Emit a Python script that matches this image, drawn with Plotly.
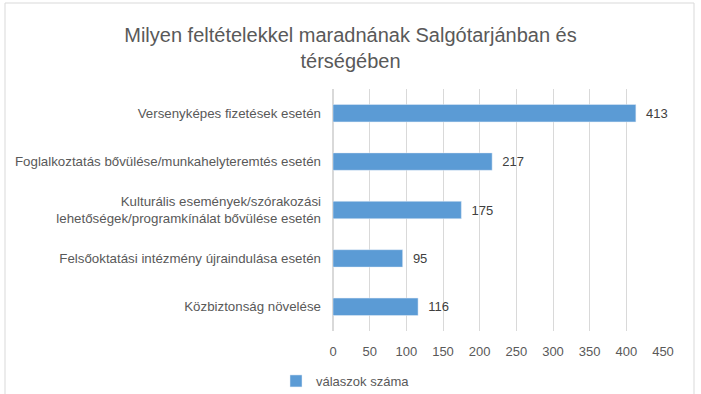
import plotly.graph_objects as go

categories = [
    "Versenyképes fizetések esetén",
    "Foglalkoztatás bővülése/munkahelyteremtés esetén",
    "Kulturális események/szórakozási<br>lehetőségek/programkínálat bővülése esetén",
    "Felsőoktatási intézmény újraindulása esetén",
    "Közbiztonság növelése",
]
values = [413, 217, 175, 95, 116]
series_name = "válaszok száma"
tick_vals = [0, 50, 100, 150, 200, 250, 300, 350, 400, 450]

FONT = "Liberation Sans"
W, H = 701, 394
L, R, T, B = 333, 38, 89, 63
pw, ph = W - L - R, H - T - B

fig = go.Figure(go.Bar(
    y=categories[::-1], x=values[::-1], orientation="h",
    name=series_name, marker=dict(color="#5b9bd5"),
    texttemplate="  %{x}", textposition="outside",
    textfont=dict(family=FONT, size=13, color="#404040"),
    cliponaxis=False, showlegend=True,
))

def px_x(p):
    return (p - L) / pw

def px_y(p):
    return (H - B - p) / ph

fig.add_shape(type="rect", xref="paper", yref="paper",
              x0=px_x(5), x1=px_x(694), y0=px_y(398), y1=px_y(3),
              line=dict(color="#d9d9d9", width=1), fillcolor="rgba(0,0,0,0)", layer="below")

fig.update_layout(
    width=W, height=H,
    margin=dict(l=L, r=R, t=T, b=B, autoexpand=False),
    paper_bgcolor="white", plot_bgcolor="white",
    bargap=0.64,
    title=dict(text="Milyen feltételekkel maradnának Salgótarjánban és<br>térségében",
               x=0.5, xref="container", xanchor="center",
               y=1 - 42 / H, yref="container", yanchor="middle",
               font=dict(family=FONT, size=20, color="#595959")),
    xaxis=dict(range=[0, 450], tickvals=tick_vals, showgrid=True, gridcolor="#d9d9d9",
               gridwidth=1, zeroline=True, zerolinecolor="#d9d9d9", showline=False,
               automargin=False,
               tickfont=dict(family=FONT, size=13, color="#595959"), ticks="", ticklabelstandoff=11),
    yaxis=dict(showgrid=False, ticks="", showline=False, automargin=False,
               tickfont=dict(family=FONT, size=13.3, color="#595959"), ticklabelstandoff=11),
    legend=dict(orientation="h", x=px_x(276), xref="paper", xanchor="left",
                y=px_y(381), yref="paper", yanchor="middle",
                font=dict(family=FONT, size=13, color="#595959"), itemwidth=30,
                tracegroupgap=0),
)

fig.write_html("out.html", config={"displayModeBar": False},
               post_script="document.body.style.margin='0';")
